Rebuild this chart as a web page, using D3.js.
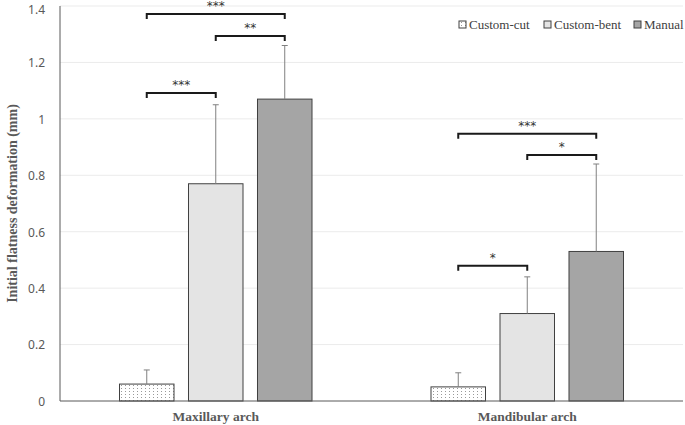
<!DOCTYPE html>
<html>
<head>
<meta charset="utf-8">
<script src="https://cdn.jsdelivr.net/npm/d3@7"></script>
<style>
  body { margin: 0; background: #fff; }
  svg { display: block; }
</style>
</head>
<body>
<div id="chart"></div>
<script>
// data
const categories = ["Maxillary arch", "Mandibular arch"];
const groups = ["Custom-cut", "Custom-bent", "Manual"];
const customCut = [0.06, 0.05];
const customBent = [0.77, 0.31];
const manual = [1.07, 0.53];
const customCutErr = [0.05, 0.05];
const customBentErr = [0.28, 0.13];
const manualErr = [0.19, 0.31];
const yTicks = [0, 0.2, 0.4, 0.6, 0.8, 1, 1.2, 1.4];

// significance brackets: category index, from group, to group, y level, label
const brackets = [
  { cat: 0, from: 0, to: 2, y: 1.372, label: "***" },
  { cat: 0, from: 1, to: 2, y: 1.294, label: "**" },
  { cat: 0, from: 0, to: 1, y: 1.092, label: "***" },
  { cat: 1, from: 0, to: 2, y: 0.947, label: "***" },
  { cat: 1, from: 1, to: 2, y: 0.872, label: "*" },
  { cat: 1, from: 0, to: 1, y: 0.479, label: "*" }
];

const width = 685, height = 425;
const mLeft = 60, mRight = 683, mTop = 6, mBottom = 401;

const seriesVals = [customCut, customBent, manual];
const seriesErr = [customCutErr, customBentErr, manualErr];
const fills = ["url(#dots)", "#e4e4e4", "#a5a5a5"];

const svg = d3.select("#chart").append("svg")
  .attr("width", width)
  .attr("height", height);

// dotted fill for the custom-cut bars
const pat = svg.append("defs").append("pattern")
  .attr("id", "dots")
  .attr("width", 4).attr("height", 3)
  .attr("patternUnits", "userSpaceOnUse");
pat.append("rect").attr("width", 4).attr("height", 3).attr("fill", "#fff");
pat.append("rect").attr("x", 1).attr("y", 1).attr("width", 1).attr("height", 1).attr("fill", "#999");

const x0 = d3.scaleBand().domain(categories).range([mLeft, mRight]);
const x1 = d3.scaleBand().domain(groups).range([0, 192.5]).paddingInner(0.21);
const groupOffset = (x0.bandwidth() - 192.5) / 2;
const y = d3.scaleLinear().domain([0, 1.4]).range([mBottom, mTop]);

// gridlines
svg.append("g")
  .selectAll("line")
  .data(yTicks.slice(1))
  .enter().append("line")
  .attr("x1", mLeft).attr("x2", mRight)
  .attr("y1", d => y(d)).attr("y2", d => y(d))
  .attr("stroke", "#ebebeb").attr("stroke-width", 1);

// y axis labels
const yAxis = svg.append("g")
  .attr("transform", `translate(${mLeft},0)`)
  .call(d3.axisLeft(y).tickValues(yTicks).tickSize(0).tickPadding(15).tickFormat(d3.format("~g")));
yAxis.select(".domain").remove();
yAxis.selectAll("text")
  .attr("fill", "#595959")
  .attr("dy", d => d === 1.4 ? "0.6em" : "0.36em") // keep top label inside the frame
  .style("font-family", "'Noto Sans', sans-serif")
  .style("font-size", "12px");

// bars
const barX = (c, g) => x0(categories[c]) + groupOffset + x1(groups[g]);
seriesVals.forEach((vals, g) => {
  const gg = svg.append("g");
  gg.selectAll("rect")
    .data(vals)
    .enter().append("rect")
    .attr("x", (d, c) => barX(c, g))
    .attr("y", d => y(d))
    .attr("width", x1.bandwidth())
    .attr("height", d => y(0) - y(d))
    .attr("fill", fills[g])
    .attr("stroke", "#404040")
    .attr("stroke-width", 1);

  // error bars (upper only)
  gg.selectAll("path.err")
    .data(vals)
    .enter().append("path")
    .attr("class", "err")
    .attr("d", (d, c) => {
      const cx = barX(c, g) + x1.bandwidth() / 2;
      const yt = y(d + seriesErr[g][c]);
      return `M${cx},${y(d)}V${yt}M${cx - 3},${yt}H${cx + 3}`;
    })
    .attr("fill", "none")
    .attr("stroke", "#808080")
    .attr("stroke-width", 1);
});

// axes lines
svg.append("line")
  .attr("x1", mLeft).attr("x2", mLeft).attr("y1", mTop).attr("y2", mBottom)
  .attr("stroke", "#595959").attr("stroke-width", 1);
svg.append("line")
  .attr("x1", mLeft).attr("x2", mRight).attr("y1", mBottom).attr("y2", mBottom)
  .attr("stroke", "#595959").attr("stroke-width", 1);

// category labels
svg.append("g")
  .selectAll("text")
  .data(categories)
  .enter().append("text")
  .attr("x", d => x0(d) + x0.bandwidth() / 2)
  .attr("y", 421)
  .attr("text-anchor", "middle")
  .attr("fill", "#595959")
  .style("font-family", "'Liberation Serif', serif")
  .style("font-weight", "bold")
  .style("font-size", "13.5px")
  .text(d => d);

// y title
svg.append("text")
  .attr("transform", `translate(17,${(mTop + mBottom) / 2}) rotate(-90)`)
  .attr("text-anchor", "middle")
  .attr("fill", "#595959")
  .style("font-family", "'Liberation Serif', serif")
  .style("font-weight", "bold")
  .style("font-size", "14px")
  .text("Initial flatness deformation (mm)");

// significance brackets
const bg = svg.append("g");
brackets.forEach(b => {
  const xa = barX(b.cat, b.from) + x1.bandwidth() / 2;
  const xb = barX(b.cat, b.to) + x1.bandwidth() / 2;
  const yy = y(b.y);
  bg.append("path")
    .attr("d", `M${xa},${yy + 5}V${yy}H${xb}V${yy + 5}`)
    .attr("fill", "none")
    .attr("stroke", "#1a1a1a")
    .attr("stroke-width", 2);
  bg.append("text")
    .attr("x", (xa + xb) / 2)
    .attr("y", yy - 4)
    .attr("text-anchor", "middle")
    .attr("fill", "#333")
    .style("font-family", "'DejaVu Sans', sans-serif")
    .style("font-size", "12px")
    .text(b.label);
});

// legend
const legendX = [459, 544, 634];
const lg = svg.append("g");
groups.forEach((name, i) => {
  lg.append("rect")
    .attr("x", legendX[i]).attr("y", 21)
    .attr("width", 7).attr("height", 7)
    .attr("fill", fills[i])
    .attr("stroke", "#404040").attr("stroke-width", 1);
  lg.append("text")
    .attr("x", legendX[i] + 10).attr("y", 29)
    .attr("fill", "#404040")
    .style("font-family", "'Liberation Serif', serif")
    .style("font-size", "13px")
    .text(name);
});
</script>
</body>
</html>
